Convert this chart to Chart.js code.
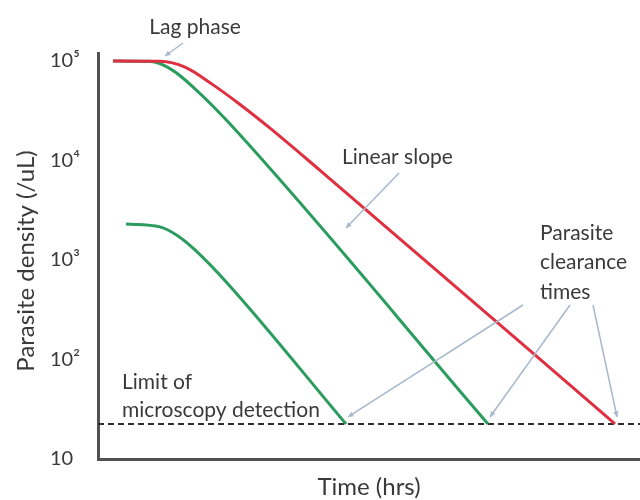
<!DOCTYPE html>
<html>
<head>
<meta charset="utf-8">
<title>Parasite clearance</title>
<script src="https://cdn.jsdelivr.net/npm/chart.js@4.4.0/dist/chart.umd.min.js"></script>
<style>
  html, body { margin: 0; padding: 0; background: #fff; }
</style>
</head>
<body>
<canvas id="myChart" width="640" height="500"></canvas>
<script>
// time in hrs (arbitrary units), density in parasites / uL
var timeRange = [0, 108.4];
var densityRange = [10, 120000];

var redTime = [3, 12.4, 17.4, 22.8, 28.4, 34.4, 44.4, 103.4];
var redDensity = [100000, 98900, 86400, 58400, 36500, 21100, 7950, 22.5];

var greenTime = [3, 10.4, 14.8, 19.4, 26, 78];
var greenDensity = [100000, 98900, 81200, 52400, 24400, 22.5];

var lowGreenTime = [5.6, 12.4, 16, 19.4, 26, 49.6];
var lowGreenDensity = [2300, 2150, 1743, 1262, 574, 22.5];

var detectionLimit = 22.5;

var tickValues = [10, 100, 1000, 10000, 100000];
var tickLabels = ['10', '10\u00b2', '10\u00b3', '10\u2074', '10\u2075'];

var textColor = '#3a3a3a';
var axisColor = '#505050';
var redColor = '#df2f40';
var greenColor = '#2a9d5e';
var arrowColor = '#a8b8cc';

function toPoints(xs, ys) {
    var pts = [];
    for (var i = 0; i < xs.length; i++) {
        pts.push({ x: xs[i], y: ys[i] });
    }
    return pts;
}

function arrow(ctx, x1, y1, x2, y2) {
    var a = Math.atan2(y2 - y1, x2 - x1);
    ctx.beginPath();
    ctx.moveTo(x1, y1);
    ctx.lineTo(x2, y2);
    ctx.stroke();
    ctx.beginPath();
    ctx.moveTo(x2, y2);
    ctx.lineTo(x2 - 6 * Math.cos(a - 0.45), y2 - 6 * Math.sin(a - 0.45));
    ctx.lineTo(x2 - 6 * Math.cos(a + 0.45), y2 - 6 * Math.sin(a + 0.45));
    ctx.closePath();
    ctx.fill();
}

// labels, arrows and the y title
var notes = {
    id: 'notes',
    afterDraw: function (chart) {
        var ctx = chart.ctx;
        var xs = chart.scales.x, ys = chart.scales.y;
        ctx.save();

        ctx.fillStyle = textColor;
        ctx.textBaseline = 'middle';
        ctx.font = '21px Lato';
        ctx.textAlign = 'center';
        ctx.fillText('Lag phase', 195, 27);
        ctx.textAlign = 'left';
        ctx.fillText('Linear slope', 342, 157);
        ctx.fillText('Parasite', 540, 233);
        ctx.fillText('clearance', 540, 262);
        ctx.fillText('times', 540, 292);
        ctx.fillText('Limit of', 122, 382);
        ctx.fillText('microscopy detection', 122, 410);

        ctx.save();
        ctx.translate(26, 261);
        ctx.rotate(-Math.PI / 2);
        ctx.textAlign = 'center';
        ctx.font = '24px Lato';
        ctx.fillText('Parasite density (/uL)', 0, 0);
        ctx.restore();

        ctx.strokeStyle = arrowColor;
        ctx.fillStyle = arrowColor;
        ctx.lineWidth = 1.5;
        arrow(ctx, 183, 43, 165, 56);
        arrow(ctx, 399, 173, 346, 228);

        var ends = [
            [lowGreenTime[lowGreenTime.length - 1], 523],
            [greenTime[greenTime.length - 1], 570],
            [redTime[redTime.length - 1], 593]
        ];
        for (var i = 0; i < ends.length; i++) {
            var px = xs.getPixelForValue(ends[i][0]);
            var py = ys.getPixelForValue(detectionLimit);
            arrow(ctx, ends[i][1], 305, px + 2, py - 7);
        }
        ctx.restore();
    }
};

var ctx = document.getElementById('myChart').getContext('2d');
var myChart = new Chart(ctx, {
    type: 'line',
    data: {
        datasets: [{
            data: toPoints(redTime, redDensity),
            borderColor: redColor,
            borderWidth: 3,
            cubicInterpolationMode: 'monotone'
        }, {
            data: toPoints(greenTime, greenDensity),
            borderColor: greenColor,
            borderWidth: 3,
            cubicInterpolationMode: 'monotone'
        }, {
            data: toPoints(lowGreenTime, lowGreenDensity),
            borderColor: greenColor,
            borderWidth: 3,
            cubicInterpolationMode: 'monotone'
        }, {
            data: toPoints(timeRange, [detectionLimit, detectionLimit]),
            borderColor: '#2e2e2e',
            borderWidth: 2,
            borderDash: [6, 4]
        }]
    },
    options: {
        responsive: false,
        animation: false,
        elements: { point: { radius: 0 } },
        layout: { padding: { left: 50, top: 53, right: 0, bottom: 0 } },
        plugins: { legend: { display: false }, tooltip: { enabled: false } },
        scales: {
            x: {
                type: 'linear',
                min: timeRange[0],
                max: timeRange[1],
                grid: { display: false },
                border: { display: true, color: axisColor, width: 3 },
                ticks: { display: false },
                title: {
                    display: true,
                    text: 'Time (hrs)',
                    color: textColor,
                    font: { family: 'Lato', size: 24, lineHeight: 1 },
                    padding: { top: 0, bottom: 1 }
                },
                afterFit: function (s) { s.height = 41; }
            },
            y: {
                type: 'logarithmic',
                min: densityRange[0],
                max: densityRange[1],
                grid: { display: false },
                border: { display: true, color: axisColor, width: 3 },
                ticks: {
                    autoSkip: false,
                    crossAlign: 'far',
                    color: textColor,
                    font: { family: 'Lato', size: 20 },
                    callback: function (value) {
                        var i = tickValues.indexOf(value);
                        return i >= 0 ? tickLabels[i] : '';
                    }
                },
                afterBuildTicks: function (s) {
                    s.ticks = tickValues.map(function (v) { return { value: v }; });
                },
                afterFit: function (s) { s.width = 48; }
            }
        }
    },
    plugins: [notes]
});
</script>
</body>
</html>
